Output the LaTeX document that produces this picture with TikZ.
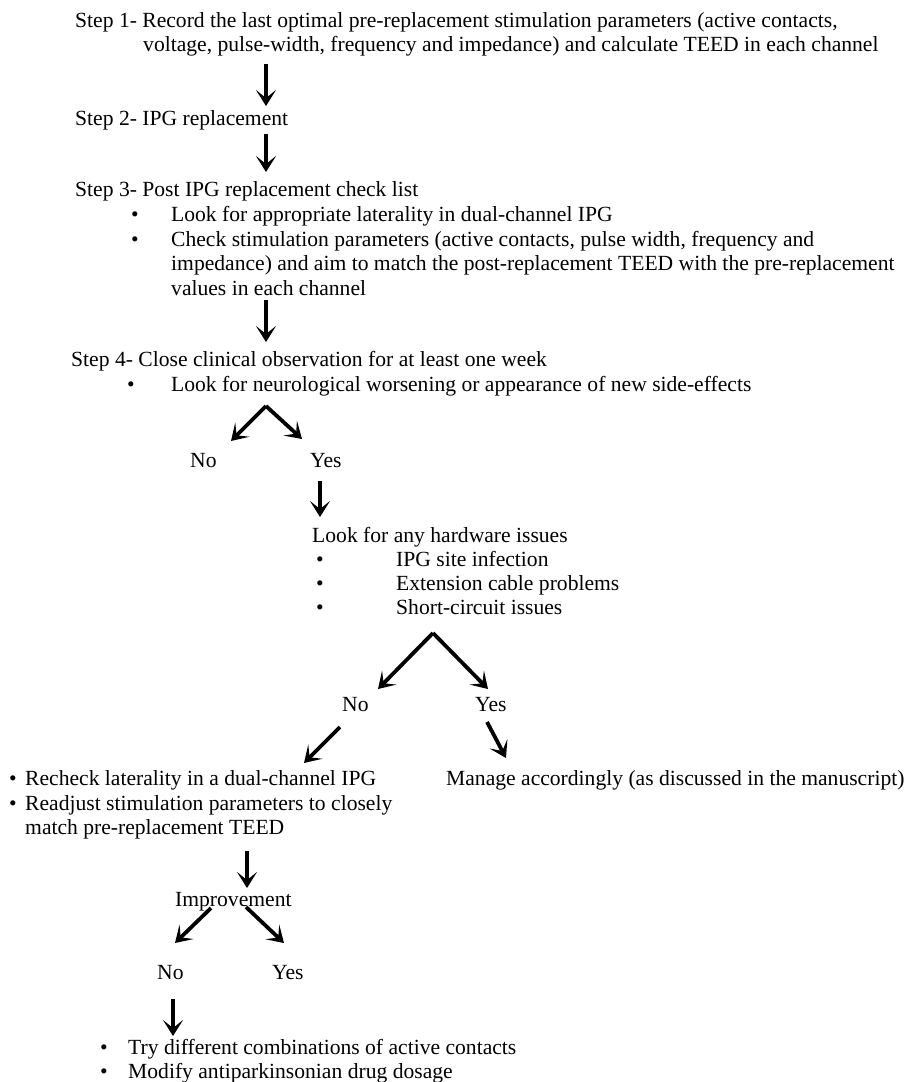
\documentclass[tikz,border=0pt]{standalone}
\usepackage{fontspec}
\setmainfont{Liberation Serif}
\usetikzlibrary{arrows.meta}
\begin{document}
\begin{tikzpicture}[x=1pt,y=-1pt,
  txt/.style={anchor=base west,inner sep=0pt,font=\fontsize{21.6}{24}\selectfont},
  dot/.style={anchor=base,inner sep=0pt,font=\fontsize{21.6}{24}\selectfont},
  arr/.style={line width=3.8pt,-{Stealth[length=16pt,width=20pt,inset=8pt]}}]
\useasboundingbox (0,0) rectangle (911,1082);

% Step 1
\node[txt] (s1a) at (75,27) {Step 1- Record the last optimal pre-replacement stimulation parameters (active contacts,};
\node[txt] (s1b) at (143,51) {voltage, pulse-width, frequency and impedance) and calculate TEED in each channel};
% Step 2
\node[txt] (s2) at (75,125) {Step 2- IPG replacement};
% Step 3
\node[txt] (s3) at (75,196) {Step 3- Post IPG replacement check list};
\node[dot] (d31) at (135,221) {\textbullet};
\node[txt] (t31) at (171,221) {Look for appropriate laterality in dual-channel IPG};
\node[dot] (d32) at (135,246) {\textbullet};
\node[txt] (t32a) at (171,246) {Check stimulation parameters (active contacts, pulse width, frequency and};
\node[txt] (t32b) at (171,270) {impedance) and aim to match the post-replacement TEED with the pre-replacement};
\node[txt] (t32c) at (171,295) {values in each channel};
% Step 4
\node[txt] (s4) at (71,366) {Step 4- Close clinical observation for at least one week};
\node[dot] (d41) at (131,391) {\textbullet};
\node[txt] (t41) at (171,391) {Look for neurological worsening or appearance of new side-effects};
\node[txt] (no1) at (190,467) {No};
\node[txt] (yes1) at (310,467) {Yes};
% hardware
\node[txt] (hw) at (312,542) {Look for any hardware issues};
\node[dot] (dh1) at (320,566) {\textbullet};
\node[txt] (th1) at (396,566) {IPG site infection};
\node[dot] (dh2) at (320,590) {\textbullet};
\node[txt] (th2) at (396,590) {Extension cable problems};
\node[dot] (dh3) at (320,614) {\textbullet};
\node[txt] (th3) at (396,614) {Short-circuit issues};
\node[txt] (no2) at (342,711) {No};
\node[txt] (yes2) at (475,711) {Yes};
% second level
\node[dot] (dr1) at (13,785) {\textbullet};
\node[txt] (tr1) at (25,785) {Recheck laterality in a dual-channel IPG};
\node[dot] (dr2) at (13,810) {\textbullet};
\node[txt] (tr2a) at (25,810) {Readjust stimulation parameters to closely};
\node[txt] (tr2b) at (25,834) {match pre-replacement TEED};
\node[txt] (man) at (446,785) {Manage accordingly (as discussed in the manuscript)};
\node[txt] (imp) at (175,906) {Improvement};
\node[txt] (no3) at (157,979) {No};
\node[txt] (yes3) at (272,979) {Yes};
\node[dot] (dt1) at (104,1054) {\textbullet};
\node[txt] (tt1) at (128,1054) {Try different combinations of active contacts};
\node[dot] (dt2) at (104,1078) {\textbullet};
\node[txt] (tt2) at (128,1078) {Modify antiparkinsonian drug dosage};

% arrow end points
\coordinate (a1s) at (266,64);  \coordinate (a1e) at (266,106);
\coordinate (a2s) at (266,134); \coordinate (a2e) at (266,172);
\coordinate (a3s) at (266,300); \coordinate (a3e) at (266,342);
\coordinate (f1) at (266,406);  \coordinate (f1l) at (231,441); \coordinate (f1r) at (302,439);
\coordinate (a4s) at (320,481); \coordinate (a4e) at (320,517);
\coordinate (f2) at (433,633);  \coordinate (f2l) at (378,689); \coordinate (f2r) at (488,689);
\coordinate (a5s) at (340,727); \coordinate (a5e) at (304,763);
\coordinate (a6s) at (487,722); \coordinate (a6e) at (506,758);
\coordinate (a7s) at (247,851); \coordinate (a7e) at (247,888);
\coordinate (f3ls) at (211,908); \coordinate (f3le) at (175,943);
\coordinate (f3rs) at (246,907); \coordinate (f3re) at (284,943);
\coordinate (a8s) at (173,999); \coordinate (a8e) at (173,1036);

\draw[arr] (a1s) -- (a1e);
\draw[arr] (a2s) -- (a2e);
\draw[arr] (a3s) -- (a3e);
\draw[arr] (f1) -- (f1l);
\draw[arr] (f1) -- (f1r);
\draw[arr] (a4s) -- (a4e);
\draw[arr] (f2) -- (f2l);
\draw[arr] (f2) -- (f2r);
\draw[arr] (a5s) -- (a5e);
\draw[arr] (a6s) -- (a6e);
\draw[arr] (a7s) -- (a7e);
\draw[arr] (f3ls) -- (f3le);
\draw[arr] (f3rs) -- (f3re);
\draw[arr] (a8s) -- (a8e);
\end{tikzpicture}
\end{document}
